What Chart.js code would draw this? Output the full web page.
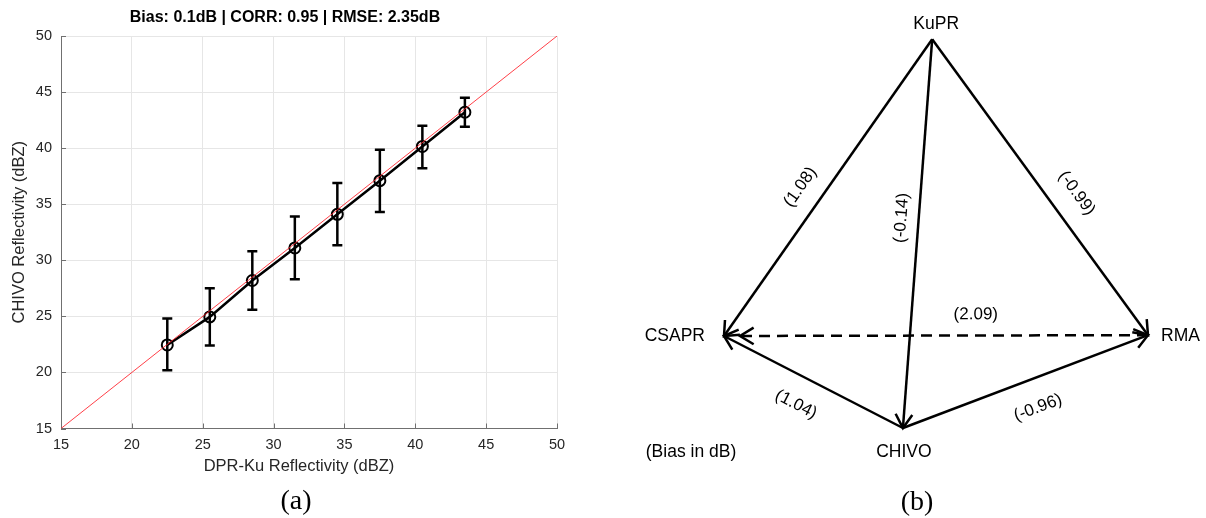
<!DOCTYPE html>
<html>
<head>
<meta charset="utf-8">
<title>DPR-Ku vs CHIVO reflectivity</title>
<script src="https://cdn.jsdelivr.net/npm/chart.js@4.4.1/dist/chart.umd.min.js"></script>
<style>
  body { margin: 0; background: #fff; }
  #wrap { position: relative; width: 1206px; height: 518px; }
  canvas { position: absolute; top: 0; }
  #scatterChart { left: 0; }
  #biasChart { left: 600px; }
</style>
</head>
<body>
<div id="wrap">
  <canvas id="scatterChart" width="600" height="518"></canvas>
  <canvas id="biasChart" width="606" height="518"></canvas>
</div>
<script>
// (a) binned reflectivity comparison
var dprKu = [22.5, 25.5, 28.5, 31.5, 34.5, 37.5, 40.5, 43.5];
var chivoMean = [22.45, 24.95, 28.2, 31.1, 34.1, 37.1, 40.15, 43.2];
var chivoLow = [20.2, 22.4, 25.6, 28.3, 31.35, 34.3, 38.2, 41.9];
var chivoHigh = [24.8, 27.5, 30.8, 33.9, 36.9, 39.85, 42.0, 44.5];
var oneToOne = [15, 50];
var axisTicks = [15, 20, 25, 30, 35, 40, 45, 50];
var statsTitle = 'Bias: 0.1dB | CORR: 0.95 | RMSE: 2.35dB';

// (b) bias between radars (layout units)
var radars = ['KuPR', 'CSAPR', 'RMA', 'CHIVO'];
var radarX = [4.91, 0, 10, 4.22];
var radarY = [9.17, 2.17, 2.19, 0];
var edgeFrom = ['KuPR', 'KuPR', 'KuPR', 'RMA', 'CHIVO', 'CHIVO'];
var edgeTo = ['CSAPR', 'CHIVO', 'RMA', 'CSAPR', 'CSAPR', 'RMA'];
var edgeBias = [1.08, -0.14, -0.99, 2.09, 1.04, -0.96];
var edgeDashed = [false, false, false, true, false, false];

var sans = "'Liberation Sans', Arial, Helvetica, sans-serif";
var serif = "'Liberation Serif', 'Times New Roman', serif";
var txt = '#262626';
var axisGray = '#707070';

// label placement along each edge: t = fraction, d = px off the line
var labelPlace = [
  {t: 0.543, d: 23}, {t: 0.463, d: 17}, {t: 0.572, d: -26},
  {t: 0.406, d: 21}, {t: 0.526, d: -28}, {t: 0.509, d: 29}
];
var nodeLabel = {
  KuPR: {dx: 4, dy: -15, align: 'center'},
  CSAPR: {dx: -19, dy: 0, align: 'right'},
  RMA: {dx: 13, dy: 1, align: 'left'},
  CHIVO: {dx: 1, dy: 24, align: 'center'}
};

var errorBars = {
  id: 'errorBars',
  beforeDatasetsDraw: function(chart) {
    var ctx = chart.ctx, xs = chart.scales.x, ys = chart.scales.y, area = chart.chartArea;
    ctx.save();
    // matlab style inward ticks
    ctx.strokeStyle = axisGray;
    ctx.lineWidth = 1;
    ctx.beginPath();
    axisTicks.forEach(function(v) {
      var px = Math.round(xs.getPixelForValue(v)) + 0.5;
      var py = Math.round(ys.getPixelForValue(v)) + 0.5;
      ctx.moveTo(px, area.bottom); ctx.lineTo(px, area.bottom - 5);
      ctx.moveTo(area.left, py); ctx.lineTo(area.left + 5, py);
    });
    ctx.stroke();

    ctx.strokeStyle = '#000';
    ctx.lineWidth = 2.5;
    dprKu.forEach(function(x, i) {
      var px = xs.getPixelForValue(x);
      var top = ys.getPixelForValue(chivoHigh[i]);
      var bot = ys.getPixelForValue(chivoLow[i]);
      ctx.beginPath();
      ctx.moveTo(px, top); ctx.lineTo(px, bot);
      ctx.moveTo(px - 5, top); ctx.lineTo(px + 5, top);
      ctx.moveTo(px - 5, bot); ctx.lineTo(px + 5, bot);
      ctx.stroke();
    });
    ctx.restore();
  },
  afterDraw: function(chart) {
    var ctx = chart.ctx;
    ctx.save();
    ctx.textAlign = 'center';
    ctx.textBaseline = 'middle';
    ctx.fillStyle = '#000';
    ctx.font = 'bold 16px ' + sans;
    ctx.fillText(statsTitle, 285, 18);
    ctx.fillStyle = txt;
    ctx.font = '16.5px ' + sans;
    ctx.fillText('DPR-Ku Reflectivity (dBZ)', 299, 466);
    ctx.fillStyle = '#000';
    ctx.font = '28px ' + serif;
    ctx.fillText('(a)', 296, 502);
    ctx.restore();
  }
};

new Chart(document.getElementById('scatterChart'), {
  type: 'scatter',
  data: {
    datasets: [{
      label: '1:1',
      data: oneToOne.map(function(v) { return {x: v, y: v}; }),
      showLine: true,
      borderColor: 'rgba(255,30,40,0.85)',
      borderWidth: 1,
      pointRadius: 0
    }, {
      label: 'CHIVO',
      data: dprKu.map(function(x, i) { return {x: x, y: chivoMean[i]}; }),
      showLine: true,
      borderColor: '#000',
      borderWidth: 2.5,
      pointRadius: 5.5,
      pointBorderWidth: 2,
      pointBorderColor: '#000',
      pointBackgroundColor: 'rgba(0,0,0,0)'
    }]
  },
  options: {
    responsive: false,
    animation: false,
    events: [],
    layout: { padding: { left: 0, right: 43, top: 36, bottom: 0 } },
    plugins: { legend: { display: false }, tooltip: { enabled: false } },
    scales: {
      x: {
        type: 'linear', min: 15, max: 50,
        afterBuildTicks: function(s) { s.ticks = axisTicks.map(function(v) { return {value: v}; }); },
        afterFit: function(s) { s.height = 89.5; },
        grid: { color: '#e6e6e6', drawTicks: false },
        border: { color: axisGray, width: 1 },
        ticks: { color: txt, font: { family: sans, size: 14.5 }, padding: 8, maxRotation: 0 }
      },
      y: {
        type: 'linear', min: 15, max: 50,
        afterBuildTicks: function(s) { s.ticks = axisTicks.map(function(v) { return {value: v}; }); },
        afterFit: function(s) { s.width = 61; },
        grid: { color: '#e6e6e6', drawTicks: false },
        border: { color: axisGray, width: 1 },
        ticks: { color: txt, font: { family: sans, size: 14.5 }, padding: 9 },
        title: { display: true, text: 'CHIVO Reflectivity (dBZ)', color: txt,
                 font: { family: sans, size: 16.5 }, padding: { top: 10, bottom: 0 } }
      }
    }
  },
  plugins: [errorBars]
});

// (b) arrows and labels
var biasDiagram = {
  id: 'biasDiagram',
  afterDatasetsDraw: function(chart) {
    var ctx = chart.ctx, xs = chart.scales.x, ys = chart.scales.y;
    function pos(name) {
      var i = radars.indexOf(name);
      return [xs.getPixelForValue(radarX[i]), ys.getPixelForValue(radarY[i])];
    }
    ctx.save();
    ctx.strokeStyle = '#000';
    ctx.fillStyle = '#000';
    ctx.lineWidth = 2.5;

    edgeFrom.forEach(function(f, i) {
      var a = pos(f), b = pos(edgeTo[i]);
      var dx = b[0] - a[0], dy = b[1] - a[1], len = Math.hypot(dx, dy);
      var ux = dx / len, uy = dy / len;
      var trim = edgeDashed[i] ? 16 : 0;
      var tx = b[0] - ux * trim, ty = b[1] - uy * trim;

      ctx.setLineDash(edgeDashed[i] ? [11, 7] : []);
      ctx.beginPath();
      ctx.moveTo(a[0], a[1]);
      ctx.lineTo(tx, ty);
      ctx.stroke();
      ctx.setLineDash([]);

      var ang = Math.atan2(uy, ux), head = 16, spread = 0.55;
      ctx.beginPath();
      ctx.moveTo(tx - head * Math.cos(ang - spread), ty - head * Math.sin(ang - spread));
      ctx.lineTo(tx, ty);
      ctx.lineTo(tx - head * Math.cos(ang + spread), ty - head * Math.sin(ang + spread));
      ctx.stroke();

      var pl = labelPlace[i];
      var lx = a[0] + dx * pl.t - uy * pl.d;
      var ly = a[1] + dy * pl.t + ux * pl.d;
      var rot = ang;
      if (rot > Math.PI / 2) rot -= Math.PI;
      if (rot < -Math.PI / 2) rot += Math.PI;
      ctx.save();
      ctx.translate(lx, ly);
      ctx.rotate(rot);
      ctx.font = '17px ' + sans;
      ctx.textAlign = 'center';
      ctx.textBaseline = 'middle';
      ctx.fillText('(' + edgeBias[i].toFixed(2) + ')', 0, 0);
      ctx.restore();
    });

    ctx.font = '17.5px ' + sans;
    ctx.textBaseline = 'middle';
    radars.forEach(function(name) {
      var p = pos(name), nl = nodeLabel[name];
      ctx.textAlign = nl.align;
      ctx.fillText(name, p[0] + nl.dx, p[1] + nl.dy);
    });
    var chivo = pos('CHIVO'), csapr = pos('CSAPR');
    ctx.textAlign = 'center';
    ctx.fillText('(Bias in dB)', csapr[0] - 33, chivo[1] + 24);
    ctx.font = '28px ' + serif;
    ctx.fillText('(b)', 317, 503);
    ctx.restore();
  }
};

new Chart(document.getElementById('biasChart'), {
  type: 'scatter',
  data: {
    datasets: [{
      label: 'radars',
      data: radars.map(function(r, i) { return {x: radarX[i], y: radarY[i]}; }),
      pointRadius: 0
    }]
  },
  options: {
    responsive: false,
    animation: false,
    events: [],
    layout: { padding: { left: 124, right: 58, top: 4, bottom: 90 } },
    plugins: { legend: { display: false }, tooltip: { enabled: false } },
    scales: {
      x: { type: 'linear', min: 0, max: 10, display: false },
      y: { type: 'linear', min: 0, max: 10, display: false }
    }
  },
  plugins: [biasDiagram]
});
</script>
</body>
</html>
